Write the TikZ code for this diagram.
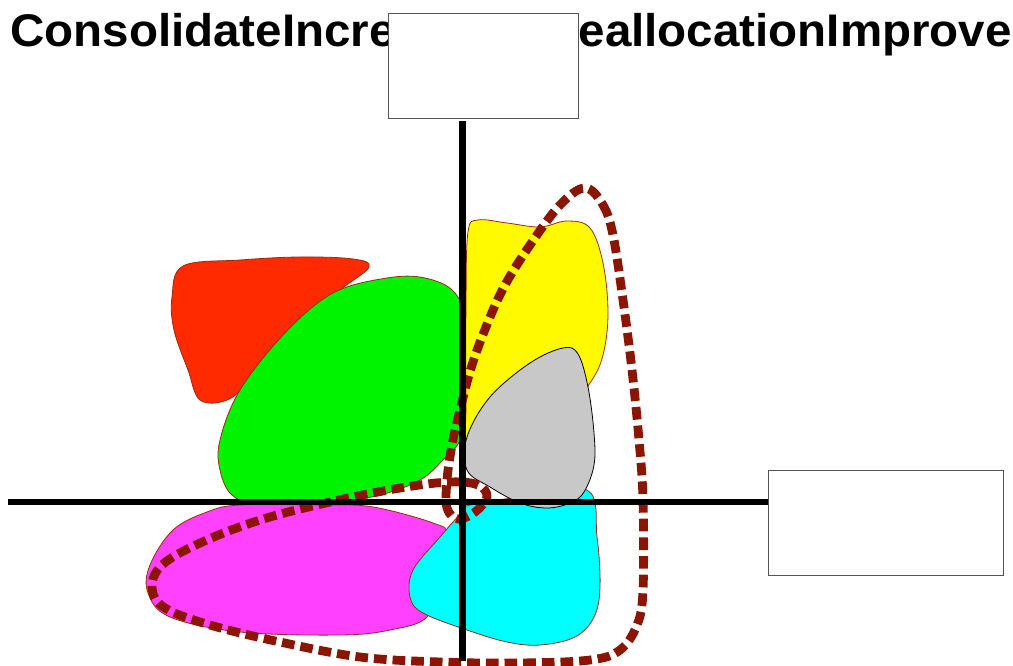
\documentclass[tikz,border=0pt]{standalone}
\usepackage{fontspec}
\usepackage{graphicx}
\setmainfont{Liberation Sans}
\definecolor{blobred}{HTML}{FF2A00}
\definecolor{blobgreen}{HTML}{00F400}
\definecolor{blobyellow}{HTML}{FFFA00}
\definecolor{blobgrey}{HTML}{C8C8C8}
\definecolor{blobcyan}{HTML}{00FFFF}
\definecolor{blobmag}{HTML}{FF40FF}
\definecolor{loopred}{HTML}{8B1500}
\definecolor{edgered}{HTML}{9A2A10}
\definecolor{boxedge}{HTML}{555555}
\begin{document}
\begin{tikzpicture}[x=0.75pt,y=-0.75pt,
  blob/.style={draw=edgered,line width=0.6pt},
  axisline/.style={line width=4.6pt,black},
  vaxisline/.style={line width=5.6pt,black},
  loopline/.style={draw=loopred,line width=6.6pt,dash pattern=on 9.5pt off 4.5pt},
  emptybox/.style={draw=boxedge,fill=white,line width=0.8pt,minimum width=#1,inner sep=0pt},
  titletext/.style={font=\fontsize{33}{40}\selectfont\bfseries,inner sep=0pt,anchor=base west}]
\useasboundingbox (0,0) rectangle (1013,666);
% title texts
\node[titletext] (t1) at (10,46.5) {\scalebox{1.08}[1.04]{ConsolidateIncrease}};
\node[titletext] (t2) at (544,46.5) {\scalebox{1.08}[1.04]{ReallocationImprove}};
% blobs
\path[blob,fill=blobred] plot[smooth cycle,tension=0.6] coordinates {(183,266) (240,260) (300,257) (353,259) (369,267) (340,290) (290,330) (250,380) (227,400) (200,400) (188,370) (174,330) (172,297)};
\path[blob,fill=blobgreen] plot[smooth cycle,tension=0.6] coordinates {(387,278) (425,278) (455,293) (468,330) (468,400) (460,440) (443,460) (420,480) (380,495) (320,505) (260,505) (232,495) (220,470) (220,440) (240,390) (285,333) (333,293)};
\path[blob,fill=blobyellow] plot[smooth cycle,tension=0.6] coordinates {(468,232) (478,220) (507,223) (540,227) (567,221) (590,228) (603,263) (608,313) (603,355) (590,383) (560,420) (500,440) (468,460) (466,400) (466,300)};
\path[blob,fill=blobmag] plot[smooth cycle,tension=0.6] coordinates {(240,505) (323,505) (373,507) (433,523) (447,535) (440,580) (427,617) (390,630) (340,635) (240,632) (170,617) (148,593) (150,565) (173,530) (207,512)};
\path[blob,fill=blobcyan] plot[smooth cycle,tension=0.6] coordinates {(470,505) (520,497) (587,490) (597,537) (600,587) (594,617) (575,637) (540,645) (507,642) (467,630) (423,613) (410,597) (413,570) (440,537) (462,512)};
\path[draw=black,line width=0.6pt,fill=blobgrey] plot[smooth cycle,tension=0.6] coordinates {(563,348) (578,354) (588,387) (594,433) (594,465) (584,492) (570,503) (547,508) (520,503) (490,487) (467,470) (467,437) (490,397) (530,363)};
% dashed loop
\path[loopline] plot[smooth cycle,tension=0.6] coordinates {(585,188) (603,205) (613,235) (623,300) (632,370) (639,440) (643,500) (643,590) (637,625) (620,650) (590,660) (520,663) (440,662) (360,657) (280,642) (210,625) (165,608) (152,588) (162,565) (200,543) (260,520) (330,502) (400,488) (450,482) (478,485) (487,497) (475,512) (458,519) (447,508) (447,480) (452,445) (460,410) (472,365) (488,322) (505,285) (530,245) (560,205)};
% boxes
\node[emptybox=190*0.75pt,minimum height=105*0.75pt,anchor=north west] (topbox) at (388,13) {};
\node[emptybox=235*0.75pt,minimum height=105*0.75pt,anchor=north west] (rightbox) at (768,470) {};
% axes
\coordinate (xleft) at (8,502);
\coordinate (ybottom) at (462.5,661);
\draw[axisline] (xleft) -- (rightbox.west |- xleft);
\draw[vaxisline] (topbox.south -| ybottom) ++(0,2) -- (ybottom);
\end{tikzpicture}
\end{document}
